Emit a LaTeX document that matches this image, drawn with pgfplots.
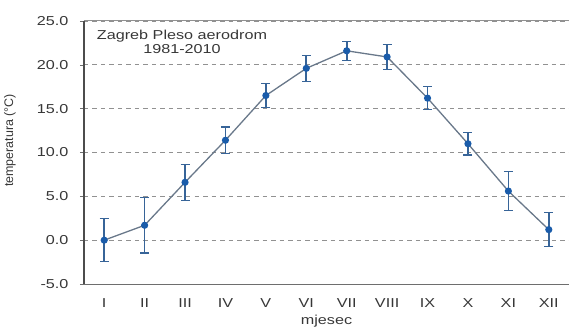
\documentclass[border=0pt]{standalone}
\usepackage{fontspec}
\setmainfont{Liberation Sans}[FakeStretch=1.25]
\newfontfamily\plainsans{Liberation Sans}
\usepackage{pgfplots}
\pgfplotsset{compat=1.18}

\definecolor{meanline}{RGB}{105,120,138}
\definecolor{markblue}{RGB}{26,92,170}
\definecolor{barblue}{RGB}{55,100,152}
\definecolor{axisgray}{RGB}{110,110,110}
\definecolor{gridgray}{RGB}{145,145,145}
\definecolor{labeltext}{RGB}{55,55,55}

\begin{document}
\begin{tikzpicture}
\begin{axis}[
  name=ax,
  scale only axis,
  width=485bp, height=263bp,
  xmin=0.5, xmax=12.5,
  ymin=-5, ymax=25,
  ytick={-5,0,5,10,15,20,25},
  xtick={1,...,12},
  xticklabels={I,II,III,IV,V,VI,VII,VIII,IX,X,XI,XII},
  major x tick style={draw=none},
  extra x ticks={1.5,2.5,3.5,4.5,5.5,6.5,7.5,8.5,9.5,10.5,11.5},
  extra x tick labels={},
  extra x tick style={major tick length=5bp, tick style={draw=axisgray, line width=0.6bp}, tick align=center, grid=none},
  axis x line*=bottom,
  axis y line*=left,
  axis line style={draw=axisgray, line width=1bp, -},
  y axis line style={line width=1.4bp, draw=black!70},
  ytick style={draw=axisgray, line width=0.6bp},
  major tick length=4bp,
  tick align=outside,
  ymajorgrids,
  major grid style={draw=gridgray, dash pattern=on 4.5bp off 4bp, line width=0.9bp},
  tick label style={font=\fontsize{13}{15}\selectfont, text=labeltext},
  xticklabel style={yshift=-7bp},
  yticklabel style={xshift=-8bp},
  /pgf/number format/.cd, fixed, fixed zerofill, precision=1, assume math mode=true,
]
\addplot[
  color=meanline, line width=1.3bp,
  mark=*, mark size=2.9bp,
  mark options={fill=markblue, draw=markblue},
  error bars/.cd, y dir=both, y explicit,
  error bar style={draw=barblue, line width=1.6bp},
  error mark options={rotate=90, mark size=4.5bp, line width=1.3bp, draw=barblue},
] coordinates {
  (1,0.0)   +- (0,2.45)
  (2,1.7)   +- (0,3.15)
  (3,6.6)   +- (0,2.05)
  (4,11.4)  +- (0,1.5)
  (5,16.5)  +- (0,1.4)
  (6,19.6)  +- (0,1.5)
  (7,21.6)  +- (0,1.1)
  (8,20.9)  +- (0,1.4)
  (9,16.2)  +- (0,1.3)
  (10,11.0) +- (0,1.3)
  (11,5.6)  +- (0,2.2)
  (12,1.2)  +- (0,1.95)
};
\draw[gridgray, line width=1bp] (rel axis cs:0,1) -- (rel axis cs:1,1);
\end{axis}
\node[font=\fontsize{13}{15}\selectfont, text=labeltext, align=center, anchor=north]
  at ([xshift=98bp,yshift=-6bp]ax.north west)
  {Zagreb Pleso aerodrom\\[-1pt]1981-2010};
\node[font=\plainsans\fontsize{12.5}{14}\selectfont, text=labeltext, rotate=90]
  at ([xshift=-74bp,yshift=12bp]ax.west) {temperatura (°C)};
\node[font=\fontsize{13}{15}\selectfont, text=labeltext, anchor=base]
  at ([yshift=-40bp]ax.south) {mjesec};
\pgfresetboundingbox
\path ([xshift=-84bp,yshift=-46bp]ax.south west) rectangle ([yshift=21bp]ax.north east);
\end{tikzpicture}
\end{document}
